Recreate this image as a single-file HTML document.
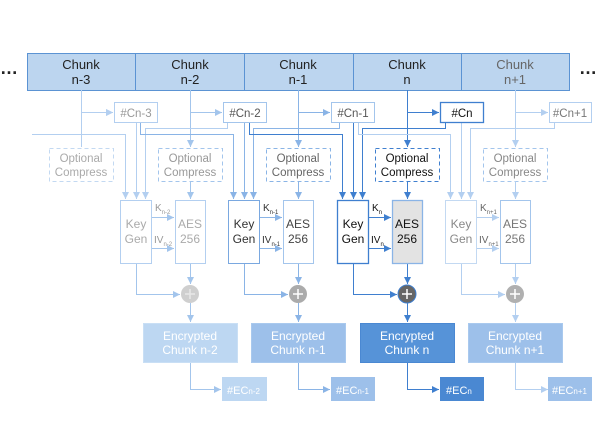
<!DOCTYPE html>
<html><head><meta charset="utf-8"><style>
html,body{margin:0;padding:0;background:#fff;}
svg{display:block;font-family:"Liberation Sans",Arial,sans-serif;}
</style></head><body>
<svg width="600" height="445" viewBox="0 0 600 445" xmlns="http://www.w3.org/2000/svg">
<defs>
<marker id="aL" markerWidth="8" markerHeight="8" refX="7" refY="4" orient="auto" markerUnits="userSpaceOnUse"><path d="M0,0.5 L7,4 L0,7.5z" fill="#b3cff0"/></marker>
<marker id="aM" markerWidth="8" markerHeight="8" refX="7" refY="4" orient="auto" markerUnits="userSpaceOnUse"><path d="M0,0.5 L7,4 L0,7.5z" fill="#8ab4e6"/></marker>
<marker id="aD" markerWidth="8" markerHeight="8" refX="7" refY="4" orient="auto" markerUnits="userSpaceOnUse"><path d="M0,0.5 L7,4 L0,7.5z" fill="#3f7fcf"/></marker>
<marker id="aP" markerWidth="8" markerHeight="8" refX="7" refY="4" orient="auto" markerUnits="userSpaceOnUse"><path d="M0,0.5 L7,4 L0,7.5z" fill="#a3c5ec"/></marker>
</defs>

<!-- top bar -->
<rect x="27.5" y="53.5" width="542" height="37" fill="#bcd5ef" stroke="#5b93d3"/>
<g stroke="#5b93d3"><line x1="135.5" y1="53" x2="135.5" y2="90"/><line x1="244.5" y1="53" x2="244.5" y2="90"/><line x1="353.5" y1="53" x2="353.5" y2="90"/><line x1="461.5" y1="53" x2="461.5" y2="90"/></g>
<g font-size="13" text-anchor="middle" fill="#222">
<text x="81" y="69">Chunk</text><text x="81" y="84">n-3</text>
<text x="190" y="69">Chunk</text><text x="190" y="84">n-2</text>
<text x="298" y="69">Chunk</text><text x="298" y="84">n-1</text>
<text x="407" y="69">Chunk</text><text x="407" y="84">n</text>
<text x="515" y="69" fill="#666">Chunk</text><text x="515" y="84" fill="#666">n+1</text>
</g>
<text x="0" y="74" font-size="18" font-weight="bold" fill="#222">…</text>
<text x="579" y="74" font-size="18" font-weight="bold" fill="#222">…</text>

<g fill="none" stroke-width="1">
<!-- chunk to #C and compress -->
<path d="M81.5 90V147 M81.5 112.5H113" stroke="#b3cff0" marker-end="url(#aL)"/>
<path d="M81.5 112.5H113" stroke="#b3cff0" marker-end="url(#aL)"/>
<path d="M190.5 90V147" stroke="#a3c5ec" marker-end="url(#aP)"/><path d="M190.5 112.5H222" stroke="#a3c5ec" marker-end="url(#aP)"/>
<path d="M298.5 90V147" stroke="#8ab4e6" marker-end="url(#aM)"/><path d="M298.5 112.5H330" stroke="#8ab4e6" marker-end="url(#aM)"/>
<path d="M407.5 90V147" stroke="#3f7fcf" marker-end="url(#aD)"/><path d="M407.5 112.5H439" stroke="#3f7fcf" marker-end="url(#aD)"/>
<path d="M515.5 90V147" stroke="#b3cff0" marker-end="url(#aL)"/><path d="M515.5 112.5H548" stroke="#b3cff0" marker-end="url(#aL)"/>

<!-- keygen inputs n-2 -->
<path d="M32 134.5H125.5V199" stroke="#b3cff0" marker-end="url(#aL)"/>
<path d="M136.5 122V199" stroke="#b3cff0" marker-end="url(#aL)"/>
<path d="M227.5 122V128.5H145.5V199" stroke="#b3cff0" marker-end="url(#aL)"/>
<!-- n-1 -->
<path d="M140.5 122V134.5H233.5V199" stroke="#8ab4e6" marker-end="url(#aM)"/>
<path d="M244.5 122V199" stroke="#8ab4e6" marker-end="url(#aM)"/>
<path d="M339.5 122V128.5H253.5V199" stroke="#8ab4e6" marker-end="url(#aM)"/>
<!-- n -->
<path d="M249.5 122V134.5H342.5V199" stroke="#3f7fcf" marker-end="url(#aD)"/>
<path d="M353.5 122V199" stroke="#3f7fcf" marker-end="url(#aD)"/>
<path d="M445.5 122V128.5H362.5V199" stroke="#3f7fcf" marker-end="url(#aD)"/>
<!-- n+1 -->
<path d="M358.5 122V134.5H450.5V199" stroke="#b3cff0" marker-end="url(#aL)"/>
<path d="M461.5 122V199" stroke="#b3cff0" marker-end="url(#aL)"/>
<path d="M554.5 122V128.5H470.5V199" stroke="#b3cff0" marker-end="url(#aL)"/>
</g>

<!-- #C boxes -->
<g font-size="11.5" text-anchor="middle">
<rect x="114.5" y="102.5" width="43" height="20" fill="#fff" stroke="#b3cff0"/><text x="136" y="117" fill="#999">#Cn-3</text>
<rect x="223.5" y="102.5" width="43" height="20" fill="#fff" stroke="#a3c5ec"/><text x="245" y="117" fill="#555">#Cn-2</text>
<rect x="331.5" y="102.5" width="43" height="20" fill="#fff" stroke="#a3c5ec"/><text x="353" y="117" fill="#555">#Cn-1</text>
<rect x="440.5" y="102.5" width="43" height="20" fill="#fff" stroke="#3f7fcf" stroke-width="1.3"/><text x="462" y="117" fill="#111">#Cn</text>
<rect x="549.5" y="102.5" width="42" height="20" fill="#fff" stroke="#b3cff0"/><text x="570" y="117" fill="#777">#Cn+1</text>
</g>

<!-- compress boxes -->
<g font-size="11.5" text-anchor="middle" fill="none" stroke-dasharray="4,3">
<rect x="49.5" y="148.5" width="64" height="33" stroke="#c3d9f2"/>
<rect x="158.5" y="148.5" width="64" height="33" stroke="#a3c5ec"/>
<rect x="266.5" y="148.5" width="64" height="33" stroke="#8ab4e6"/>
<rect x="375.5" y="148.5" width="64" height="33" stroke="#3f7fcf"/>
<rect x="483.5" y="148.5" width="64" height="33" stroke="#a3c5ec"/>
</g>
<g font-size="11.5" text-anchor="middle">
<text x="81" y="162" fill="#aaa">Optional</text><text x="81" y="176" fill="#aaa">Compress</text>
<text x="190" y="162" fill="#999">Optional</text><text x="190" y="176" fill="#999">Compress</text>
<text x="298" y="162" fill="#666">Optional</text><text x="298" y="176" fill="#666">Compress</text>
<text x="407" y="162" fill="#111">Optional</text><text x="407" y="176" fill="#111">Compress</text>
<text x="515" y="162" fill="#888">Optional</text><text x="515" y="176" fill="#888">Compress</text>
</g>

<!-- per column lower parts -->
<g fill="none">
<!-- n-2 -->
<path d="M190.5 181V199" stroke="#a3c5ec" marker-end="url(#aP)"/>
<path d="M151 217.5H174 M151 248.5H174" stroke="#a3c5ec"/>
<path d="M151 217.5H174" stroke="#a3c5ec" marker-end="url(#aP)"/><path d="M151 248.5H174" stroke="#a3c5ec" marker-end="url(#aP)"/>
<path d="M136.5 263V294.5H180" stroke="#a3c5ec" marker-end="url(#aP)"/>
<path d="M190.5 263V284" stroke="#a3c5ec" marker-end="url(#aP)"/>
<path d="M190.5 303V322" stroke="#a3c5ec" marker-end="url(#aP)"/>
<path d="M190.5 362V389.5H221" stroke="#a3c5ec" marker-end="url(#aP)"/>
<!-- n-1 -->
<path d="M298.5 181V199" stroke="#8ab4e6" marker-end="url(#aM)"/>
<path d="M259 217.5H282" stroke="#8ab4e6" marker-end="url(#aM)"/><path d="M259 248.5H282" stroke="#8ab4e6" marker-end="url(#aM)"/>
<path d="M244.5 263V294.5H288" stroke="#8ab4e6" marker-end="url(#aM)"/>
<path d="M298.5 263V284" stroke="#8ab4e6" marker-end="url(#aM)"/>
<path d="M298.5 303V322" stroke="#8ab4e6" marker-end="url(#aM)"/>
<path d="M298.5 362V389.5H330" stroke="#8ab4e6" marker-end="url(#aM)"/>
<!-- n -->
<path d="M407.5 181V199" stroke="#3f7fcf" marker-end="url(#aD)"/>
<path d="M369 217.5H391" stroke="#3f7fcf" marker-end="url(#aD)"/><path d="M369 248.5H391" stroke="#3f7fcf" marker-end="url(#aD)"/>
<path d="M353.5 264V294.5H397" stroke="#3f7fcf" marker-end="url(#aD)"/>
<path d="M407.5 264V284" stroke="#3f7fcf" marker-end="url(#aD)"/>
<path d="M407.5 303V322" stroke="#3f7fcf" marker-end="url(#aD)"/>
<path d="M407.5 362V389.5H439" stroke="#3f7fcf" marker-end="url(#aD)"/>
<!-- n+1 -->
<path d="M515.5 181V199" stroke="#b3cff0" marker-end="url(#aL)"/>
<path d="M476 217.5H499" stroke="#b3cff0" marker-end="url(#aL)"/><path d="M476 248.5H499" stroke="#b3cff0" marker-end="url(#aL)"/>
<path d="M461.5 263V294.5H505" stroke="#b3cff0" marker-end="url(#aL)"/>
<path d="M515.5 263V284" stroke="#b3cff0" marker-end="url(#aL)"/>
<path d="M515.5 303V322" stroke="#b3cff0" marker-end="url(#aL)"/>
<path d="M515.5 362V389.5H548" stroke="#b3cff0" marker-end="url(#aL)"/>
</g>

<!-- keygen / AES boxes -->
<g font-size="12" text-anchor="middle">
<rect x="120.5" y="200.5" width="31" height="63" fill="#fff" stroke="#b3cff0"/>
<rect x="175.5" y="200.5" width="30" height="63" fill="#fff" stroke="#b3cff0"/>
<text x="136" y="228" fill="#aaa">Key</text><text x="136" y="243" fill="#aaa">Gen</text>
<text x="190" y="228" fill="#aaa">AES</text><text x="190" y="243" fill="#aaa">256</text>

<rect x="228.5" y="200.5" width="31" height="63" fill="#fff" stroke="#7aa8e0"/>
<rect x="283.5" y="200.5" width="30" height="63" fill="#fff" stroke="#a3c5ec"/>
<text x="244" y="228" fill="#333">Key</text><text x="244" y="243" fill="#333">Gen</text>
<text x="298" y="228" fill="#444">AES</text><text x="298" y="243" fill="#444">256</text>

<rect x="337.5" y="200.5" width="31" height="63" fill="#fff" stroke="#3f7fcf" stroke-width="1.3"/>
<rect x="392.5" y="200.5" width="30" height="63" fill="#e3e3e3" stroke="#8ab4e6" stroke-width="1.3"/>
<text x="353" y="228" fill="#111">Key</text><text x="353" y="243" fill="#111">Gen</text>
<text x="407" y="228" fill="#111">AES</text><text x="407" y="243" fill="#111">256</text>

<rect x="445.5" y="200.5" width="31" height="63" fill="#fff" stroke="#c3d9f2"/>
<rect x="500.5" y="200.5" width="30" height="63" fill="#fff" stroke="#a3c5ec"/>
<text x="461" y="228" fill="#888">Key</text><text x="461" y="243" fill="#888">Gen</text>
<text x="515" y="228" fill="#777">AES</text><text x="515" y="243" fill="#777">256</text>
</g>

<!-- K / IV labels -->
<g font-size="10">
<text x="155" y="211" fill="#999">K<tspan font-size="6" dy="3">n-2</tspan></text>
<text x="154" y="243" fill="#999">IV<tspan font-size="6" dy="3">n-2</tspan></text>
<text x="263" y="211" fill="#333">K<tspan font-size="6" dy="3">n-1</tspan></text>
<text x="262" y="243" fill="#333">IV<tspan font-size="6" dy="3">n-1</tspan></text>
<text x="372" y="211" fill="#111">K<tspan font-size="6" dy="3">n</tspan></text>
<text x="371" y="243" fill="#111">IV<tspan font-size="6" dy="3">n</tspan></text>
<text x="480" y="211" fill="#666">K<tspan font-size="6" dy="3">n+1</tspan></text>
<text x="479" y="243" fill="#666">IV<tspan font-size="6" dy="3">n+1</tspan></text>
</g>

<!-- plus circles -->
<g stroke="#fff" stroke-width="1.5">
<circle cx="190" cy="294" r="9" fill="#cfcfcf" stroke="none"/><path d="M185 294H195M190 289V299" stroke="#e8e8e8"/>
<circle cx="298" cy="294" r="9" fill="#ababab" stroke="none"/><path d="M293 294H303M298 289V299"/>
<circle cx="407" cy="294" r="9" fill="#666" stroke="#3f7fcf" stroke-width="1"/><path d="M402 294H412M407 289V299"/>
<circle cx="515" cy="294" r="9" fill="#b0b0b0" stroke="none"/><path d="M510 294H520M515 289V299"/>
</g>

<!-- encrypted boxes -->
<g font-size="12" text-anchor="middle" fill="#fff">
<rect x="143.5" y="323.5" width="94" height="39" fill="#bdd7f2" stroke="#c9dff5"/>
<text x="190" y="340">Encrypted</text><text x="190" y="354">Chunk n-2</text>
<rect x="251.5" y="323.5" width="94" height="39" fill="#9dc0ea" stroke="#a9c9ee"/>
<text x="298" y="340">Encrypted</text><text x="298" y="354">Chunk n-1</text>
<rect x="360.5" y="323.5" width="94" height="39" fill="#5693d8" stroke="#4a88d2"/>
<text x="407" y="340">Encrypted</text><text x="407" y="354">Chunk n</text>
<rect x="468.5" y="323.5" width="94" height="39" fill="#9dc0ea" stroke="#a9c9ee"/>
<text x="515" y="340">Encrypted</text><text x="515" y="354">Chunk n+1</text>
</g>

<!-- #EC boxes -->
<g font-size="11" fill="#fff">
<rect x="222" y="377" width="45" height="24" fill="#bdd7f2"/>
<text x="227" y="394">#EC<tspan font-size="8">n-2</tspan></text>
<rect x="331" y="377" width="44" height="24" fill="#9dc0ea"/>
<text x="336" y="394">#EC<tspan font-size="8">n-1</tspan></text>
<rect x="440" y="377" width="44" height="24" fill="#4a88d2"/>
<text x="446" y="394">#EC<tspan font-size="8">n</tspan></text>
<rect x="548" y="377" width="44" height="24" fill="#9dc0ea"/>
<text x="552" y="394">#EC<tspan font-size="8">n+1</tspan></text>
</g>
</svg>
</body></html>
